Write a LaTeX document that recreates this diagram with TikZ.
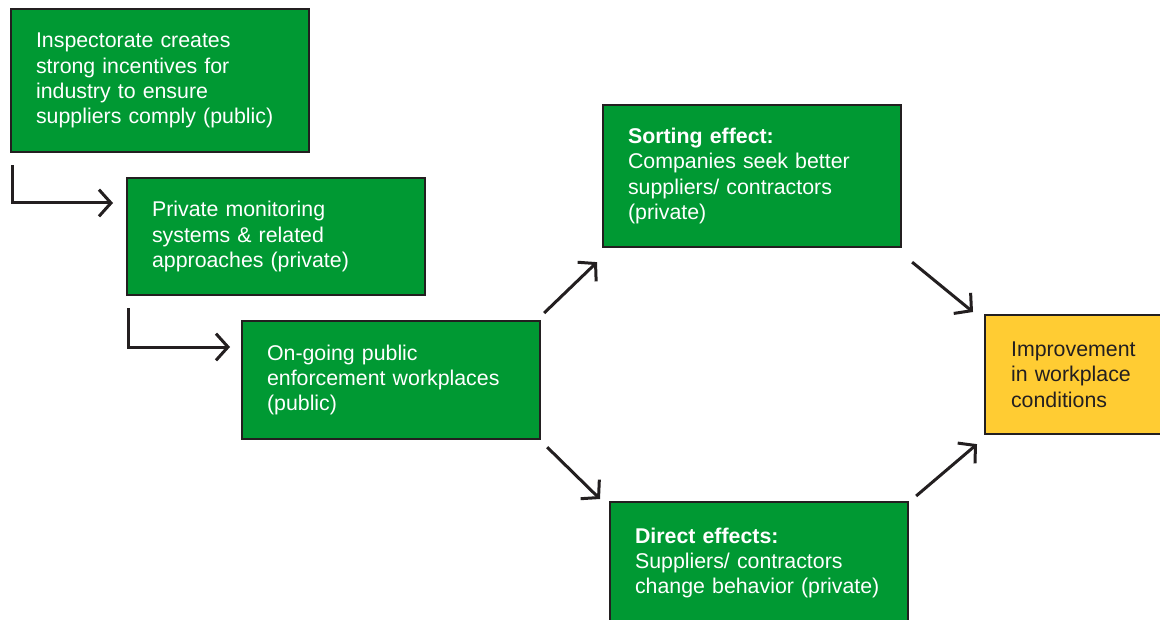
\documentclass[tikz,border=0pt]{standalone}
\usepackage{fontspec}
\setmainfont{Liberation Sans}
\usetikzlibrary{arrows.meta}
\definecolor{boxgreen}{HTML}{009933}
\definecolor{boxyellow}{HTML}{FFCC33}
\definecolor{ink}{HTML}{231F20}
\hyphenpenalty=10000
\begin{document}
\begin{tikzpicture}[x=0.75pt,y=-0.75pt,>={Straight Barb[length=9pt,width=20pt]},
	box/.style={draw=ink,line width=1.6pt,fill=boxgreen,text=white,anchor=north west,align=left,
		text width=186pt,minimum width=223.5pt,inner xsep=18.75pt,inner ysep=0pt,
		font=\fontsize{16}{19}\selectfont},
	arr/.style={->,draw=ink,line width=2.25pt}]
	\useasboundingbox (0,0) rectangle (1160,620);
	\clip (0,0) rectangle (1160,620);
	% public / private chain
	\node[box,minimum height=107.25pt] (insp) at (10,8) {Inspectorate creates\\strong incentives for\\industry to ensure\\suppliers comply (public)};
	\node[box,minimum height=87.75pt] (priv) at (126,177) {Private monitoring\\systems \& related\\approaches (private)};
	\node[box,minimum height=88.5pt] (enf) at (241,320) {On-going public\\enforcement workplaces\\(public)};
	% effects
	\node[box,minimum height=106.5pt] (sort) at (602,104) {\textbf{Sorting effect:}\\Companies seek better\\suppliers/ contractors\\(private)};
	\node[box,minimum height=91.5pt] (direct) at (609,501) {\textbf{Direct effects:}\\Suppliers/ contractors\\change behavior (private)};
	\node[box,fill=boxyellow,text=ink,text width=111pt,minimum width=150pt,minimum height=89.25pt] (impr) at (984,314) {Improvement\\in workplace\\conditions};
	% connectors
	\draw[arr] ([shift={(2,12)}]insp.south west) |- ([shift={(-13,26)}]priv.north west);
	\draw[arr] ([shift={(2,12)}]priv.south west) |- ([shift={(-11,27)}]enf.north west);
	\draw[arr] ([shift={(3,-7)}]enf.north east) -- ([shift={(-5,14)}]sort.south west);
	\draw[arr] ([shift={(6,7)}]enf.south east) -- ([shift={(-9,-2)}]direct.north west);
	\draw[arr] ([shift={(10,14)}]sort.south east) -- ([shift={(-11,-2)}]impr.north west);
	\draw[arr] ([shift={(7,-5)}]direct.north east) -- ([shift={(-7,9)}]impr.south west);
\end{tikzpicture}
\end{document}
